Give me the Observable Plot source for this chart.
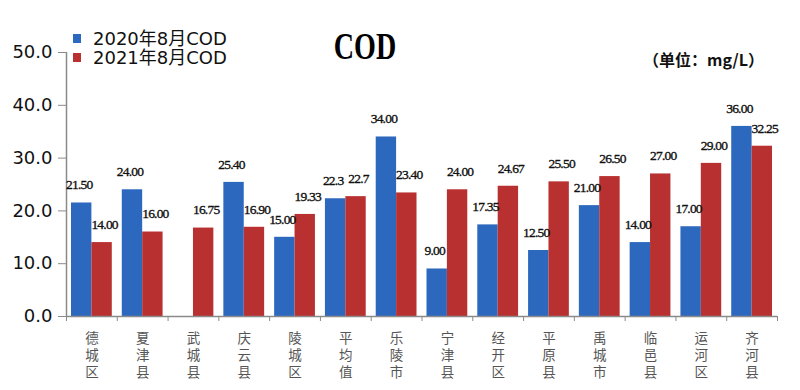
<!DOCTYPE html>
<html><head><meta charset="utf-8">
<script src="https://cdn.jsdelivr.net/npm/d3@7"></script>
<script src="https://cdn.jsdelivr.net/npm/@observablehq/plot@0.6"></script>
<style>
body{margin:0;background:#fff}
#wrap{position:relative;width:800px;height:390px;overflow:hidden}
#wrap svg{position:absolute;left:0;top:0}
.ov{position:absolute;white-space:nowrap;line-height:1}
#title{left:365px;top:46px;transform:translate(-50%,-50%) scaleX(0.78) scaleY(1.05);font:bold 36px "Liberation Serif",serif;color:#000}
#unit{left:643px;top:47px;font:bold 16px "Noto Sans CJK SC",sans-serif;color:#111}
.leg{left:73px;font:18px "DejaVu Sans","Noto Sans CJK SC",sans-serif;color:#111}
.leg span{display:inline-block;width:8px;height:9px;margin-right:12px;vertical-align:2px}
g[font-family="Liberation Serif"] text{letter-spacing:-0.8px}
</style></head><body><div id="wrap"></div>
<script>
const categories = ["德城区","夏津县","武城县","庆云县","陵城区","平均值","乐陵市","宁津县","经开区","平原县","禹城市","临邑县","运河区","齐河县"];
const series = ["2020年8月COD","2021年8月COD"];
const values2020 = [21.5,24,null,25.4,15,22.3,34,9,17.35,12.5,21,14,17,36];
const values2021 = [14,16,16.75,16.9,19.33,22.7,23.4,24,24.67,25.5,26.5,27,29,32.25];
const labels2020 = ["21.50","24.00","","25.40","15.00","22.3","34.00","9.00","17.35","12.50","21.00","14.00","17.00","36.00"];
const labels2021 = ["14.00","16.00","16.75","16.90","19.33","22.7","23.40","24.00","24.67","25.50","26.50","27.00","29.00","32.25"];
const yTicks = [0,10,20,30,40,50];
const colors = ["#2d68bf","#b83130"];

const rows = [];
categories.forEach((c,i)=>{
  rows.push({i, c, s:0, v:values2020[i], t:labels2020[i]});
  rows.push({i, c, s:1, v:values2021[i], t:labels2021[i]});
});
const data = rows.filter(d=>d.v!=null);
const d0 = data.filter(d=>d.s===0), d1 = data.filter(d=>d.s===1);

const chart = Plot.plot({
  width:800, height:390,
  marginLeft:66, marginRight:23, marginTop:52, marginBottom:74,
  x:{domain:[0,categories.length], axis:null},
  y:{domain:[0,50], axis:null},
  marks:[
    Plot.rectY(d0,{x1:d=>d.i, x2:d=>d.i+0.5, y1:0, y2:d=>d.v, fill:colors[0], insetLeft:5}),
    Plot.rectY(d1,{x1:d=>d.i+0.5, x2:d=>d.i+1, y1:0, y2:d=>d.v, fill:colors[1], insetRight:5}),
    Plot.ruleX([0],{y1:0,y2:50,stroke:"#8a8a8a",strokeWidth:1.5}),
    Plot.ruleY([0],{stroke:"#8a8a8a",strokeWidth:1.5}),
    Plot.axisY({ticks:yTicks, tickFormat:d3.format(".1f"), tickSize:8, tickPadding:6, fontSize:18, fontFamily:"DejaVu Sans", stroke:"#8a8a8a", fill:"#111"}),
    Plot.axisX({ticks:d3.range(categories.length+1), tickFormat:()=>"", tickSize:5, stroke:"#8a8a8a"}),
    Plot.text(categories,{x:(d,i)=>i+0.5, y:0, text:d=>d.split("").join("\n"), lineAnchor:"top", dy:14, fontSize:13.5, lineHeight:1.27, fill:"#555", fontFamily:"Noto Sans CJK SC"}),
    Plot.text(data,{x:d=>d.i+0.25+0.5*d.s, y:d=>d.v, text:d=>d.t, dy:-18, fontSize:13.5, fill:"#111", stroke:"#111", strokeWidth:0.35, fontFamily:"Liberation Serif"})
  ]
});
const wrap = document.getElementById("wrap");
wrap.appendChild(chart);
const title = document.createElement("div"); title.className="ov"; title.id="title"; title.textContent="COD"; wrap.appendChild(title);
const unit = document.createElement("div"); unit.className="ov"; unit.id="unit"; unit.textContent="（单位：mg/L）"; wrap.appendChild(unit);
series.forEach((s,k)=>{
  const el=document.createElement("div"); el.className="ov leg"; el.style.top=(24+k*19)+"px";
  el.innerHTML=`<span style="background:${colors[k]}"></span>`+s; wrap.appendChild(el);
});
</script></body></html>
